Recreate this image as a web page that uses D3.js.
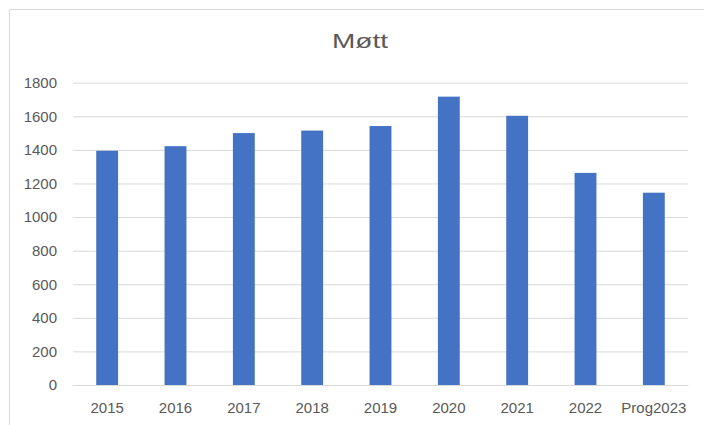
<!DOCTYPE html>
<html>
<head>
<meta charset="utf-8">
<script src="https://cdn.jsdelivr.net/npm/d3@7"></script>
<style>
  html, body { margin: 0; padding: 0; background: #fff; }
  svg { display: block; }
</style>
</head>
<body>
<script>
const categories = ["2015", "2016", "2017", "2018", "2019", "2020", "2021", "2022", "Prog2023"];
const values = [1395, 1422, 1500, 1515, 1542, 1717, 1603, 1263, 1145];
const yTicks = [0, 200, 400, 600, 800, 1000, 1200, 1400, 1600, 1800];
const title = "Møtt";

const W = 704, H = 425;
const svg = d3.select("body").append("svg").attr("width", W).attr("height", H);

// chart border
svg.append("rect").attr("x", 9.5).attr("y", 9.5).attr("width", W + 10).attr("height", H + 10)
  .attr("fill", "#fff").attr("stroke", "#d9d9d9").attr("stroke-width", 1);

const plot = { left: 73, right: 688, top: 82.7, bottom: 385 };
const x = d3.scaleBand().domain(categories).range([plot.left, plot.right]).paddingInner(0.68).paddingOuter(0.34);
const y = d3.scaleLinear().domain([0, 1800]).range([plot.bottom, plot.top]);

const font = "'Liberation Sans', Arial, sans-serif";
const textColor = "#595959";

// gridlines
const yAxis = d3.axisLeft(y).tickValues(yTicks).tickSize(-(plot.right - plot.left)).tickPadding(16).tickFormat(d3.format("d"));
const gy = svg.append("g").attr("transform", `translate(${plot.left},0)`).call(yAxis);
gy.select(".domain").remove();
gy.selectAll(".tick line").attr("stroke", "#d9d9d9").attr("stroke-width", 1);
gy.selectAll(".tick text").attr("fill", textColor).style("font-family", font).style("font-size", "15px");

// bars
svg.append("g").selectAll("rect").data(categories).join("rect")
  .attr("x", d => x(d))
  .attr("y", (d, i) => y(values[i]))
  .attr("width", x.bandwidth())
  .attr("height", (d, i) => y(0) - y(values[i]))
  .attr("fill", "#4472C4");

// x axis
const xAxis = d3.axisBottom(x).tickSize(0).tickPadding(17);
const gx = svg.append("g").attr("transform", `translate(0,${plot.bottom})`).call(xAxis);
gx.select(".domain").attr("stroke", "#d9d9d9");
gx.selectAll(".tick text").attr("fill", textColor).style("font-family", font).style("font-size", "15px");

// title
svg.append("text").attr("x", 360).attr("y", 47.7).attr("text-anchor", "middle")
  .attr("fill", textColor).style("font-family", font).style("font-size", "21px")
  .attr("textLength", 56).attr("lengthAdjust", "spacingAndGlyphs")
  .text(title);
</script>
</body>
</html>
